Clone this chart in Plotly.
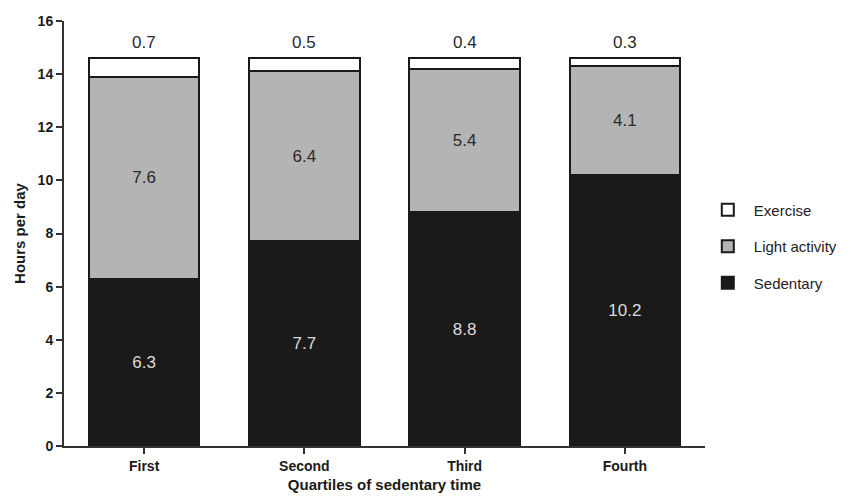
import plotly.graph_objects as go

categories = ["First", "Second", "Third", "Fourth"]
sedentary = [6.3, 7.7, 8.8, 10.2]
light = [7.6, 6.4, 5.4, 4.1]
exercise = [0.7, 0.5, 0.4, 0.3]
y_ticks = [0, 2, 4, 6, 8, 10, 12, 14, 16]

FONT = "Liberation Sans, Arial, sans-serif"
line = dict(color="#1a1a1a", width=2)

fig = go.Figure()
fig.add_trace(go.Bar(
    x=categories, y=sedentary, name="Sedentary", legendgroup="s", legendrank=3,
    marker=dict(color="#1a1a1a", line=line),
    text=[f"{v:.1f}" for v in sedentary], textposition="inside",
    insidetextanchor="middle", textangle=0,
    textfont=dict(color="#dcdcdc", size=17, family=FONT),
))
fig.add_trace(go.Bar(
    x=categories, y=light, name="Light activity", legendgroup="l", legendrank=2,
    marker=dict(color="#b4b4b4", line=line),
    text=[f"{v:.1f}" for v in light], textposition="inside",
    insidetextanchor="middle", textangle=0,
    textfont=dict(color="#2a2a2a", size=17, family=FONT),
))
fig.add_trace(go.Bar(
    x=categories, y=exercise, name="Exercise", legendgroup="e", legendrank=1,
    marker=dict(color="#ffffff", line=line),
    hoverinfo="y",
))

for c, s, l, e in zip(categories, sedentary, light, exercise):
    fig.add_annotation(
        x=c, y=s + l + e, text=f"{e:.1f}", showarrow=False,
        yanchor="bottom", yshift=4,
        font=dict(size=17, color="#2a2a2a", family=FONT),
    )

fig.update_layout(
    width=843, height=494,
    margin=dict(l=56, r=146, t=13, b=56, autoexpand=False),
    barmode="stack", bargap=0.31,
    plot_bgcolor="white", paper_bgcolor="white",
    font=dict(family=FONT, color="#1a1a1a"),
    showlegend=True,
    legend=dict(
        x=0.995, y=0.594, xanchor="left", yanchor="top",
        traceorder="grouped", tracegroupgap=14, itemwidth=42,
        font=dict(size=15, color="#222222", family=FONT),
        bgcolor="rgba(0,0,0,0)",
    ),
)
fig.update_xaxes(
    showline=True, linecolor="#333333", linewidth=2,
    ticks="outside", ticklen=6, tickwidth=2, tickcolor="#333333",
    range=[-0.5, 3.5], automargin=False,
    tickfont=dict(size=14, family=FONT, color="#1a1a1a", weight="bold"),
    title=dict(text="<b>Quartiles of sedentary time</b>", standoff=7,
               font=dict(size=15, family=FONT, color="#1a1a1a")),
)
fig.update_yaxes(
    showline=True, linecolor="#333333", linewidth=2,
    ticks="outside", ticklen=6, tickwidth=2, tickcolor="#333333",
    range=[0, 16], tickvals=y_ticks, showgrid=False, zeroline=False,
    automargin=False,
    tickfont=dict(size=14, family=FONT, color="#1a1a1a", weight="bold"),
    title=dict(text="<b>Hours per day</b>", standoff=8,
               font=dict(size=15, family=FONT, color="#1a1a1a")),
)

fig.write_html("out.html")
